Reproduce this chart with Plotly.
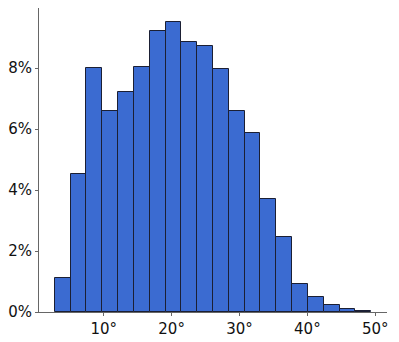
import plotly.graph_objects as go

# histogram bins (degrees) and share of observations per bin (%)
bin_start = 2.8
bin_width = 2.33
pct = [1.13, 4.52, 8.0, 6.58, 7.23, 8.05, 9.23, 9.5, 8.86, 8.73,
       7.98, 6.61, 5.87, 3.72, 2.47, 0.92, 0.50, 0.23, 0.085, 0.02]
x_ticks = [10, 20, 30, 40, 50]
y_ticks = [0, 2, 4, 6, 8]

centers = [bin_start + bin_width * (i + 0.5) for i in range(len(pct))]

fig = go.Figure(
    data=[
        go.Bar(
            x=centers,
            y=pct,
            width=bin_width,
            marker=dict(color="#3b6bd1", line=dict(color="#1b1f33", width=1)),
        )
    ]
)

axis_common = dict(
    showgrid=False,
    zeroline=False,
    showline=True,
    linecolor="#666666",
    linewidth=1,
    ticks="outside",
    ticklen=3,
    tickcolor="#666666",
    automargin=False,
    tickfont=dict(family="DejaVu Sans", size=15, color="#111111"),
)

# page body adds an 8px offset, so the figure is a bit smaller than the window
fig.update_layout(
    width=391, height=334,
    margin=dict(l=31, r=12, t=0, b=30),
    plot_bgcolor="white",
    paper_bgcolor="white",
    showlegend=False,
    bargap=0,
    xaxis=dict(range=[0.47, 51.73], tickvals=x_ticks,
               ticktext=[f"{v}°" for v in x_ticks], **axis_common),
    yaxis=dict(range=[0, 9.975], tickvals=y_ticks,
               ticktext=[f"{v}%" for v in y_ticks], **axis_common),
)

fig.write_html("out.html")
